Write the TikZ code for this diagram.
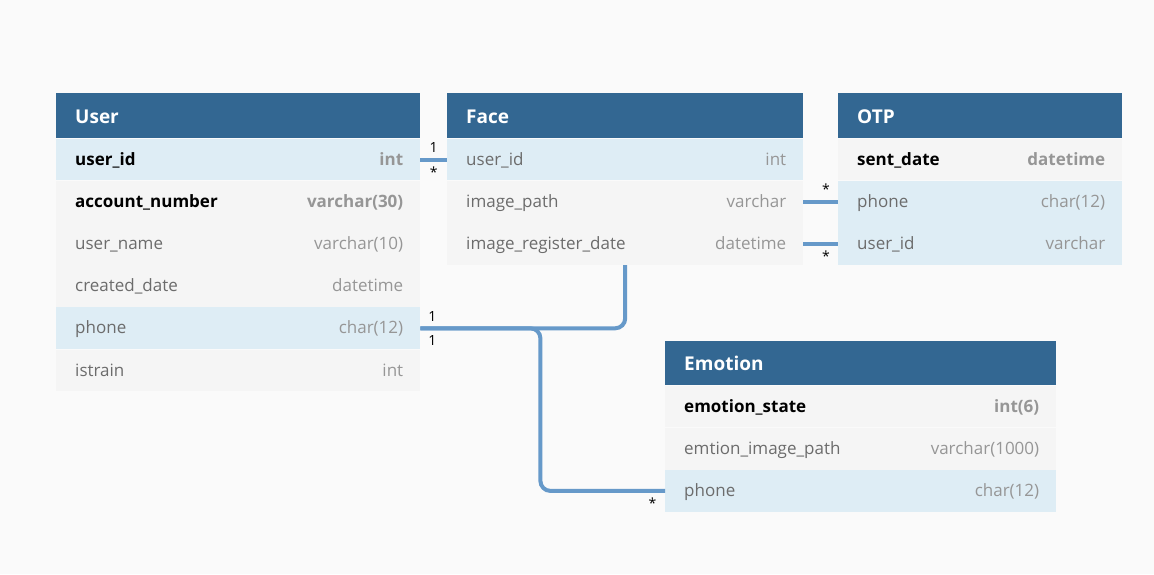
\documentclass[tikz,border=0pt]{standalone}
\usepackage{fontspec}
\setmainfont{Open Sans}
\usepackage{tikz}
\usetikzlibrary{positioning}
\definecolor{hdrblue}{RGB}{51,103,146}
\definecolor{refblue}{RGB}{222,237,245}
\definecolor{rowgrey}{RGB}{245,245,245}
\definecolor{pagebg}{RGB}{250,250,250}
\definecolor{linkblue}{RGB}{102,153,201}
\definecolor{fieldtxt}{RGB}{108,108,108}
\definecolor{typetxt}{RGB}{150,150,150}

\tikzset{
  hdr/.style={rectangle, fill=hdrblue, text=white, font=\bfseries\fontsize{19}{22}\selectfont,
    inner xsep=19pt, inner ysep=0pt, minimum height=45pt, text height=16pt, text depth=0.5pt,
    align=left, anchor=north west},
  row/.style={rectangle, fill=rowgrey, text=fieldtxt, font=\fontsize{17}{20}\selectfont,
    inner xsep=19pt, inner ysep=0pt, minimum height=41.8pt, text height=12.5pt, text depth=1.5pt,
    align=left},
  ref/.style={fill=refblue},
  pk/.style={text=black, font=\bfseries\fontsize{17}{20}\selectfont},
  ty/.style={anchor=east, xshift=-17pt, inner sep=0pt, text=typetxt,
    font=\fontsize{17}{20}\selectfont, text height=12.5pt, text depth=1.5pt},
  tybf/.style={ty, font=\bfseries\fontsize{17}{20}\selectfont},
  link/.style={draw=linkblue, line width=4pt, rounded corners=10pt},
  card/.style={inner sep=5pt, font=\fontsize{14}{16}\selectfont, text=black},
}

\begin{document}
\begin{tikzpicture}[x=1pt,y=-1pt]
  \fill[pagebg] (0,0) rectangle (1154,574);
  \useasboundingbox (0,0) rectangle (1154,574);

  % User
  \node[hdr,text width=326pt] (u-hdr) at (56,93) {User};
  \node[row,pk,ref,text width=326pt,below=0pt of u-hdr,label={[tybf]east:int}] (u-uid) {user\_id};
  \node[row,pk,text width=326pt,below=0pt of u-uid,label={[tybf]east:varchar(30)}] (u-acc) {account\_number};
  \node[row,text width=326pt,below=0pt of u-acc,label={[ty]east:varchar(10)}] (u-name) {user\_name};
  \node[row,text width=326pt,below=0pt of u-name,label={[ty]east:datetime}] (u-date) {created\_date};
  \node[row,ref,text width=326pt,below=0pt of u-date,label={[ty]east:char(12)}] (u-phone) {phone};
  \node[row,text width=326pt,below=0pt of u-phone,label={[ty]east:int}] (u-train) {istrain};

  % Face
  \node[hdr,text width=318pt] (f-hdr) at (447,93) {Face};
  \node[row,ref,text width=318pt,below=0pt of f-hdr,label={[ty]east:int}] (f-uid) {user\_id};
  \node[row,text width=318pt,below=0pt of f-uid,label={[ty]east:varchar}] (f-path) {image\_path};
  \node[row,text width=318pt,below=0pt of f-path,label={[ty]east:datetime}] (f-date) {image\_register\_date};

  % OTP
  \node[hdr,text width=246pt] (o-hdr) at (838,93) {OTP};
  \node[row,pk,text width=246pt,below=0pt of o-hdr,label={[tybf]east:datetime}] (o-sent) {sent\_date};
  \node[row,ref,text width=246pt,below=0pt of o-sent,label={[ty]east:char(12)}] (o-phone) {phone};
  \node[row,ref,text width=246pt,below=0pt of o-phone,label={[ty]east:varchar}] (o-uid) {user\_id};

  % Emotion
  \node[hdr,text width=353pt,minimum height=44pt] (e-hdr) at (665,341) {Emotion};
  \node[row,pk,text width=353pt,below=0pt of e-hdr,label={[tybf]east:int(6)}] (e-state) {emotion\_state};
  \node[row,text width=353pt,below=0pt of e-state,label={[ty]east:varchar(1000)}] (e-path) {emtion\_image\_path};
  \node[row,ref,text width=353pt,below=0pt of e-path,label={[ty]east:char(12)}] (e-phone) {phone};

  % relations
  \coordinate[right=120pt of u-phone] (split);
  \draw[link] (u-uid.east) -- node[card,above] (c1) {1} node[card,below] (c2) {*} (f-uid.west);
  \draw[link] (f-path.east) -- node[card,above,pos=0.65] (c3) {*} (o-phone.west);
  \draw[link] (f-date.east) -- node[card,below,pos=0.65] (c4) {*} (o-uid.west);
  \draw[link] (u-phone.east) -| (f-date.south);
  \draw[link] (u-phone.east) -- node[card,above,pos=0.1] (c5) {1} node[card,below,pos=0.1] (c6) {1}
    (split) |- node[card,below,pos=0.95] (c7) {*} (e-phone.west);
\end{tikzpicture}
\end{document}
